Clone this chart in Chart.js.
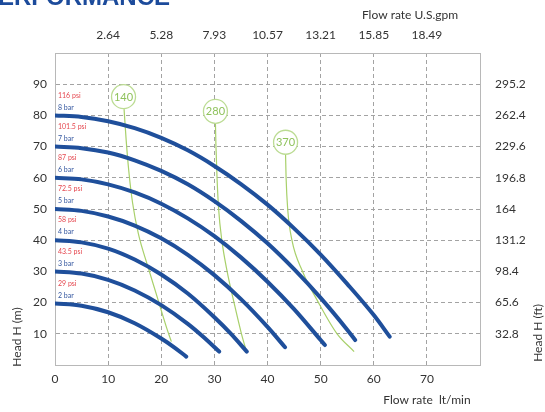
<!DOCTYPE html>
<html>
<head>
<meta charset="utf-8">
<script src="https://cdn.jsdelivr.net/npm/chart.js@4.4.1/dist/chart.umd.min.js"></script>
<style>
  html, body { margin: 0; padding: 0; background: #fff; }
  canvas { display: block; }
</style>
</head>
<body>
<canvas id="pumpChart" width="545" height="412"></canvas>
<script>
// axis labels
const gpmLabels = ["2.64", "5.28", "7.93", "10.57", "13.21", "15.85", "18.49"]
const ftLabels = ["32.8", "65.6", "98.4", "131.2", "164", "196.8", "229.6", "262.4", "295.2"]

// pressure curves (flow lt/min -> head m)
const flow8 = [0, 5, 10, 15, 20, 25, 30, 35, 40, 45, 50, 55, 60, 63]
const head8 = [80, 79.5, 78.1, 75.9, 72.8, 68.8, 63.8, 58.0, 51.4, 43.8, 35.4, 26.0, 16.0, 9.1]
const flow7 = [0, 5, 10, 15, 20, 25, 30, 35, 40, 45, 50, 55, 56.5]
const head7 = [70, 69.5, 68.1, 65.6, 62.2, 57.9, 52.5, 46.2, 39.0, 30.7, 21.5, 11.3, 8.0]
const flow6 = [0, 5, 10, 15, 20, 25, 30, 35, 40, 45, 50, 50.8]
const head6 = [60, 59.5, 57.9, 55.3, 51.7, 47.0, 41.3, 34.5, 26.7, 17.9, 8.0, 6.4]
const flow5 = [0, 5, 10, 15, 20, 25, 30, 35, 40, 43.3]
const head5 = [50, 49.4, 47.6, 44.7, 40.6, 35.3, 28.8, 21.1, 12.2, 5.7]
const flow4 = [0, 5, 10, 15, 20, 25, 30, 33, 36.1]
const head4 = [40, 39.3, 37.3, 33.8, 29.0, 22.9, 15.3, 10.2, 4.3]
const flow3 = [0, 5, 10, 15, 20, 25, 28, 30.9]
const head3 = [30, 29.3, 27.3, 23.9, 19.2, 13.2, 8.9, 4.3]
const flow2 = [0, 5, 10, 15, 20, 22.5, 24.7]
const head2 = [19.7, 19.0, 16.9, 13.4, 8.5, 5.6, 2.7]

const barLabels = ["8 bar", "7 bar", "6 bar", "5 bar", "4 bar", "3 bar", "2 bar"]
const psiLabels = ["116 psi", "101.5 psi", "87 psi", "72.5 psi", "58 psi", "43.5 psi", "29 psi"]

// air consumption lines
const flowAir140 = [13.0, 13.4, 13.9, 14.6, 15.7, 17.4, 19.2, 21.0, 21.9]
const headAir140 = [82, 72, 62, 52, 42, 32, 22, 12, 7.5]
const flowAir280 = [30.2, 30.3, 30.5, 30.8, 31.4, 32.4, 33.7, 35.1, 36.1]
const headAir280 = [77.5, 70, 60, 50, 40, 30, 20, 10, 4]
const flowAir370 = [43.4, 43.5, 43.8, 44.6, 46.6, 49.6, 53.1, 56.3]
const headAir370 = [67.5, 60, 50, 40, 30, 20, 10, 4.3]

const airLabels = ["140", "280", "370"]
const airFlow = [12.9, 30.2, 43.4]
const airHead = [86, 81.3, 71.4]

const FONT = "Lato, 'Liberation Sans', sans-serif"
const BLUE = "#1f4f9b"
const GREEN = "#a8d06a"

function pts(xs, ys) {
  return xs.map((x, i) => ({ x, y: ys[i] }))
}

const curves = [
  [flow8, head8], [flow7, head7], [flow6, head6], [flow5, head5],
  [flow4, head4], [flow3, head3], [flow2, head2]
]

const datasets = []

curves.forEach(([f, h], i) => {
  datasets.push({
    label: barLabels[i],
    data: pts(f, h),
    borderColor: BLUE,
    borderWidth: 4,
    borderCapStyle: "round",
    pointRadius: 0,
    cubicInterpolationMode: "monotone",
    order: 2
  })
})

;[[flowAir140, headAir140], [flowAir280, headAir280], [flowAir370, headAir370]].forEach(([f, h], i) => {
  datasets.push({
    label: "air " + airLabels[i],
    data: pts(f, h),
    borderColor: GREEN,
    borderWidth: 1.2,
    pointRadius: 0,
    cubicInterpolationMode: "monotone",
    order: 3
  })
})

datasets.push({
  label: "air circles",
  data: pts(airFlow, airHead),
  showLine: false,
  pointRadius: 12,
  pointBackgroundColor: "#fff",
  pointBorderColor: "#bcdc94",
  pointBorderWidth: 1.3,
  order: 1
})

const textPlugin = {
  id: "texts",
  afterDatasetsDraw(chart) {
    const { ctx, chartArea, scales } = chart
    ctx.save()
    // circle numbers
    ctx.fillStyle = "#8fc25c"
    ctx.font = "11px " + FONT
    ctx.textAlign = "center"
    ctx.textBaseline = "middle"
    airLabels.forEach((t, i) => {
      ctx.fillText(t, scales.x.getPixelForValue(airFlow[i]), scales.y.getPixelForValue(airHead[i]) + 0.5)
    })
    // pressure labels above curve starts
    ctx.font = "7px " + FONT
    ctx.textAlign = "left"
    curves.forEach(([f, h], i) => {
      const y0 = scales.y.getPixelForValue(h[0])
      ctx.fillStyle = "#e5474f"
      ctx.fillText(psiLabels[i], chartArea.left + 3, y0 - 20)
      ctx.fillStyle = "#33569f"
      ctx.fillText(barLabels[i], chartArea.left + 3, y0 - 8)
    })
    ctx.restore()
  },
  afterDraw(chart) {
    const { ctx, chartArea } = chart
    ctx.save()
    ctx.fillStyle = "#333"
    ctx.font = "12px " + FONT
    ctx.textAlign = "center"
    ctx.textBaseline = "middle"
    ctx.fillText("Flow rate U.S.gpm", chartArea.right - 70, 15)
    ctx.fillText("Flow rate  lt/min", chartArea.right - 53, 400)

    ctx.save()
    ctx.translate(17, chartArea.bottom - 28)
    ctx.rotate(-Math.PI / 2)
    ctx.fillText("Head H (m)", 0, 0)
    ctx.restore()

    ctx.save()
    ctx.translate(chartArea.right + 58, chartArea.bottom - 32)
    ctx.rotate(-Math.PI / 2)
    ctx.fillText("Head H (ft)", 0, 0)
    ctx.restore()

    // cut-off heading at the top
    ctx.fillStyle = "#1c4b9b"
    ctx.font = "bold 24px 'Liberation Sans', Arial, sans-serif"
    ctx.textAlign = "left"
    ctx.textBaseline = "alphabetic"
    ctx.fillText("PERFORMANCE", -18, 5)
    ctx.restore()
  }
}

const tickFont = { family: FONT, size: 12 }

new Chart(document.getElementById("pumpChart"), {
  type: "line",
  data: { datasets },
  options: {
    responsive: false,
    animation: false,
    layout: { padding: 0 },
    plugins: {
      legend: { display: false },
      tooltip: { enabled: false }
    },
    scales: {
      x: {
        type: "linear",
        position: "bottom",
        min: 0,
        max: 80,
        afterFit: s => { s.height = 47 },
        ticks: {
          stepSize: 10,
          padding: 7,
          color: "#333",
          font: tickFont,
          maxRotation: 0,
          callback: v => (v === 80 ? "" : v)
        },
        grid: { color: "#a3a3a3", lineWidth: 1, drawTicks: false },
        border: { color: "#b8b8b8", width: 1, dash: [4, 3] }
      },
      x2: {
        type: "linear",
        position: "top",
        min: 0,
        max: 80,
        afterFit: s => { s.height = 53 },
        ticks: {
          stepSize: 10,
          padding: 11,
          color: "#333",
          font: tickFont,
          maxRotation: 0,
          callback: v => gpmLabels[v / 10 - 1] || ""
        },
        grid: { display: false, drawTicks: false },
        border: { color: "#b8b8b8", width: 1 }
      },
      y: {
        type: "linear",
        position: "left",
        min: 0,
        max: 100,
        afterFit: s => { s.width = 55 },
        ticks: {
          stepSize: 10,
          padding: 8,
          color: "#333",
          font: tickFont,
          callback: v => (v === 0 || v === 100 ? "" : v)
        },
        grid: { color: "#a3a3a3", lineWidth: 1, drawTicks: false },
        border: { color: "#b8b8b8", width: 1, dash: [4, 3] }
      },
      y2: {
        type: "linear",
        position: "right",
        min: 0,
        max: 100,
        afterFit: s => { s.width = 65 },
        ticks: {
          stepSize: 10,
          padding: 15,
          color: "#333",
          font: tickFont,
          callback: v => ftLabels[v / 10 - 1] || ""
        },
        grid: { display: false, drawTicks: false },
        border: { color: "#b8b8b8", width: 1 }
      }
    }
  },
  plugins: [textPlugin]
})
</script>
</body>
</html>
